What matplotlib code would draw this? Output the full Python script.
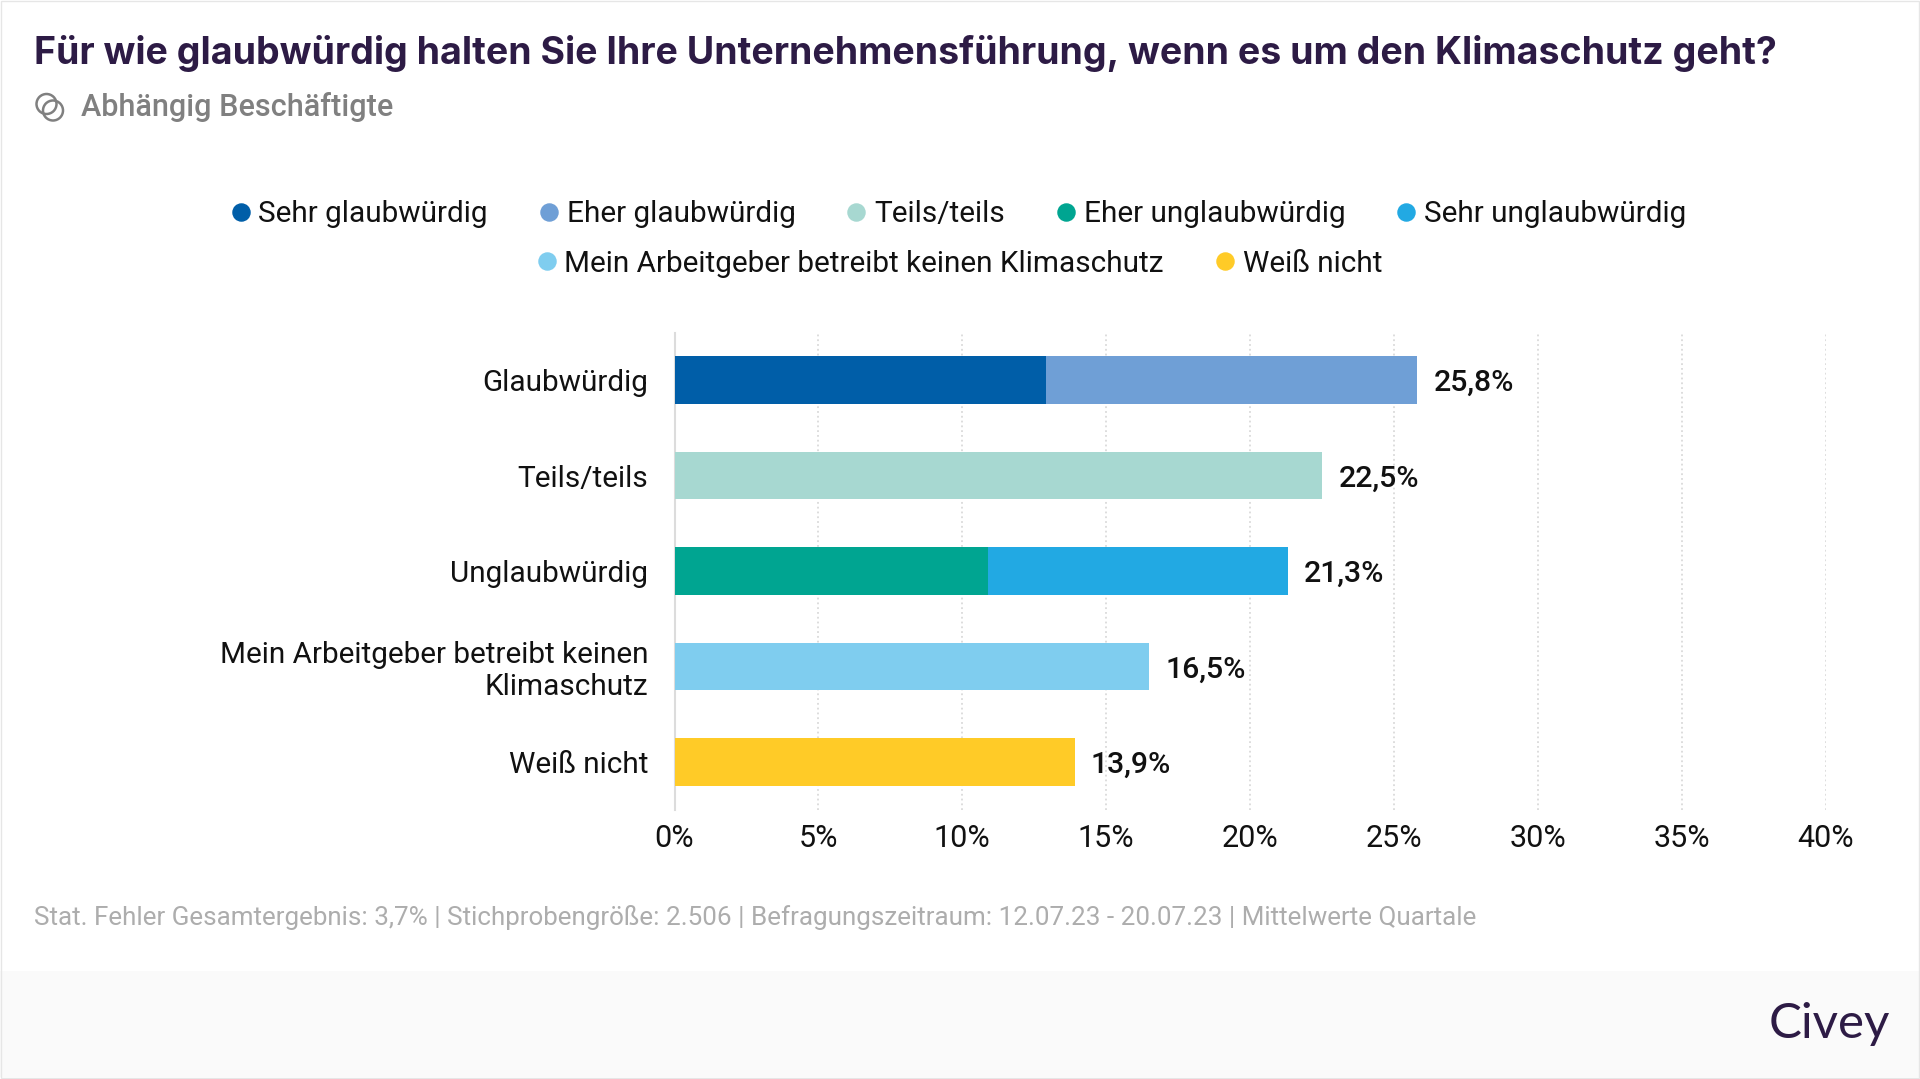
import matplotlib
matplotlib.use("Agg")
import matplotlib.pyplot as plt
from matplotlib.lines import Line2D
from matplotlib.patches import Circle, Rectangle

plt.rcParams['font.family'] = ['Roboto', 'DejaVu Sans']

# data
categories = ["Glaubwürdig", "Teils/teils", "Unglaubwürdig",
              "Mein Arbeitgeber betreibt keinen\nKlimaschutz", "Weiß nicht"]
first_part = [12.9, 22.5, 10.9, 16.5, 13.9]
second_part = [12.9, 0, 10.4, 0, 0]
totals = ["25,8%", "22,5%", "21,3%", "16,5%", "13,9%"]
first_colors = ["#005ea8", "#a7d8d1", "#00a591", "#7fcdef", "#ffcb27"]
second_colors = ["#6f9fd6", "#a7d8d1", "#22a9e3", "#7fcdef", "#ffcb27"]
ticks = [0, 5, 10, 15, 20, 25, 30, 35, 40]

legend_row1 = ["Sehr glaubwürdig", "Eher glaubwürdig", "Teils/teils",
               "Eher unglaubwürdig", "Sehr unglaubwürdig"]
colors_row1 = ["#005ea8", "#6f9fd6", "#a7d8d1", "#00a591", "#22a9e3"]
legend_row2 = ["Mein Arbeitgeber betreibt keinen Klimaschutz", "Weiß nicht"]
colors_row2 = ["#7fcdef", "#ffcb27"]

title = "Für wie glaubwürdig halten Sie Ihre Unternehmensführung, wenn es um den Klimaschutz geht?"
subtitle = "Abhängig Beschäftigte"
footer = ("Stat. Fehler Gesamtergebnis: 3,7% | Stichprobengröße: 2.506 | "
          "Befragungszeitraum: 12.07.23 - 20.07.23 | Mittelwerte Quartale")

W, H = 1920, 1079
fig = plt.figure(figsize=(W / 100, H / 100), dpi=100, facecolor="white")

# pixel overlay for the page furniture
bg = fig.add_axes([0, 0, 1, 1])
bg.set_xlim(0, W)
bg.set_ylim(H, 0)
bg.axis("off")
bg.add_patch(Rectangle((0, 971), W, 106, color="#fafafa", lw=0))
bg.add_patch(Rectangle((0.5, 0.5), W - 2, H - 2, fill=False, ec="#e6e6e6", lw=1))
bg.text(34, 53, title, fontsize=27, family=["Inter", "DejaVu Sans"], weight="bold",
        color="#2d1b45", va="center", ha="left")
bg.text(81, 107, subtitle, fontsize=22, weight="medium", color="#808080", va="center")
bg.add_patch(Circle((46.5, 104), 10, fill=False, ec="#808080", lw=1.8))
bg.add_patch(Circle((53, 110.5), 10, fill=False, ec="#808080", lw=1.8))
bg.text(34, 917.5, footer, fontsize=18.75, color="#adadad", va="center")
bg.text(1890, 1024, "Civey", fontsize=35.5, family=["Lato", "DejaVu Sans"], color="#2d1b45",
        va="center", ha="right")

ax = fig.add_axes([674.5 / W, 1 - 809.5 / H, (1825.7 - 674.5) / W, 477 / H])
ax.patch.set_alpha(0)
y = range(len(categories))
ax.barh(y, first_part, height=0.5, color=first_colors, zorder=3)
ax.barh(y, second_part, left=first_part, height=0.5, color=second_colors, zorder=3)

for i, label in enumerate(totals):
    ax.text(first_part[i] + second_part[i] + 0.57, i, label, fontsize=21.8, weight="medium",
            color="#111111", va="center_baseline", ha="left", zorder=4)

ax.set_xlim(0, 40)
ax.set_ylim(4.5, -0.5)
ax.set_xticks(ticks)
ax.set_xticklabels([f"{t}%" for t in ticks], fontsize=22, color="#111111")
ax.set_yticks(list(y))
ax.set_yticklabels(categories, fontsize=21.4, color="#111111", linespacing=1.18)
ax.tick_params(axis="both", length=0)
ax.tick_params(axis="x", pad=10.5)
ax.tick_params(axis="y", pad=19)
ax.grid(axis="x", color="#dadada", linestyle=":", linewidth=1.3, zorder=1)
for s in ["top", "right", "bottom"]:
    ax.spines[s].set_visible(False)
ax.spines["left"].set_color("#dcdcdc")
ax.spines["left"].set_linewidth(1.5)


def dots(colors):
    return [Line2D([], [], marker="o", linestyle="", color=c, markersize=12.3) for c in colors]


leg1 = fig.legend(dots(colors_row1), legend_row1, ncol=5, frameon=False, fontsize=21.4,
                  loc="center", bbox_to_anchor=(959 / W, 1 - 214.5 / H), handlelength=0.6,
                  handletextpad=0.3, columnspacing=1.75, labelcolor="#111111")
leg2 = fig.legend(dots(colors_row2), legend_row2, ncol=2, frameon=False, fontsize=21.4,
                  loc="center", bbox_to_anchor=(960 / W, 1 - 263.5 / H), handlelength=0.6,
                  handletextpad=0.3, columnspacing=1.75, labelcolor="#111111")

fig.savefig("out.png", dpi=100, facecolor="white")
